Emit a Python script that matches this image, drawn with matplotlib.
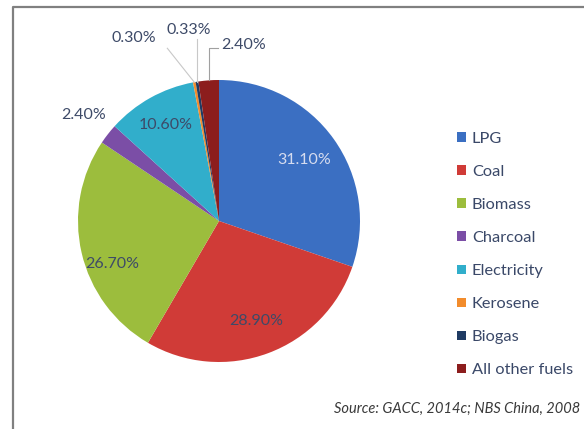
import numpy as np
import matplotlib
matplotlib.use("Agg")
import matplotlib.pyplot as plt
from matplotlib.patches import Patch
from matplotlib.lines import Line2D

plt.rcParams['font.family'] = ['Lato', 'DejaVu Sans']

# household cooking fuel shares (%)
fuels = ["LPG", "Coal", "Biomass", "Charcoal", "Electricity", "Kerosene", "Biogas", "All other fuels"]
shares = [31.10, 28.90, 26.70, 2.40, 10.60, 0.30, 0.33, 2.40]
colors = ["#3b6fc2", "#d03b37", "#9cbd3d", "#7b4ea6", "#31aecb", "#f28c2c", "#1f3b63", "#8c1d1d"]
source = "Source: GACC, 2014c; NBS China, 2008"

# label placement: radius (pie radius = 1) and angular shift from the wedge middle
label_r = [0.74, 0.755, 0.82, 1.22, 0.78, 1.43, 1.37, 1.26]
label_shift = [0, 0, -9, 0, 0, -15, 0, 12]
label_color = ["#d6dcef", "#3d4a68", "#3d4a68", "#3d4a68", "#3d4a68", "#3d4a68", "#3d4a68", "#3d4a68"]
leader = [False, False, False, False, False, True, True, True]

fig = plt.figure(figsize=(5.84, 4.29), dpi=100)

# outer frame (top and left edges only)
fig.add_artist(Line2D([13 / 584, 13 / 584, 1.0], [0.0, 1 - 7 / 429, 1 - 7 / 429],
                      color="#808080", lw=1.6, transform=fig.transFigure))

ax = fig.add_axes([78 / 584, 67 / 429, 282 / 584, 282 / 429])
wedges, _ = ax.pie(shares, colors=colors, startangle=90, counterclock=False,
                   radius=1.0, wedgeprops=dict(linewidth=0))
ax.set_xlim(-1, 1)
ax.set_ylim(-1, 1)
ax.set_aspect("equal")
ax.axis("off")

for i, w in enumerate(wedges):
    mid = np.deg2rad((w.theta1 + w.theta2) / 2)
    lab = mid - np.deg2rad(label_shift[i])
    x, y = label_r[i] * np.cos(lab), label_r[i] * np.sin(lab)
    ax.text(x, y, f"{shares[i]:.2f}%", ha="center", va="center", fontsize=11.5,
            color=label_color[i], clip_on=False)
    if leader[i]:
        ex, ey = np.cos(mid), np.sin(mid)
        if fuels[i] == "Kerosene":
            ax.plot([ex, x + 0.24], [ey, y - 0.07], color="#c8c8c8", lw=0.8, clip_on=False)
        elif fuels[i] == "Biogas":
            ax.plot([ex, ex], [ey, y - 0.06], color="#c8c8c8", lw=0.8, clip_on=False)
        else:
            ax.plot([ex, ex, x - 0.18], [ey, y - 0.02, y - 0.02], color="#a0a0a0",
                    lw=0.8, clip_on=False)

handles = [Patch(facecolor=c, edgecolor="none") for c in colors]
fig.legend(handles, fuels, loc="upper left", bbox_to_anchor=(449 / 584, 1 - 124 / 429),
           frameon=False, fontsize=11.8, handlelength=0.55, handleheight=0.55,
           handletextpad=0.35, labelspacing=1.16, labelcolor="#3a4868", borderpad=0)

fig.text(580 / 584, 1 - 409 / 429, source, ha="right", va="center", fontsize=10.5,
         style="italic", color="#3a3a3a")

fig.savefig("out.png", dpi=100)
